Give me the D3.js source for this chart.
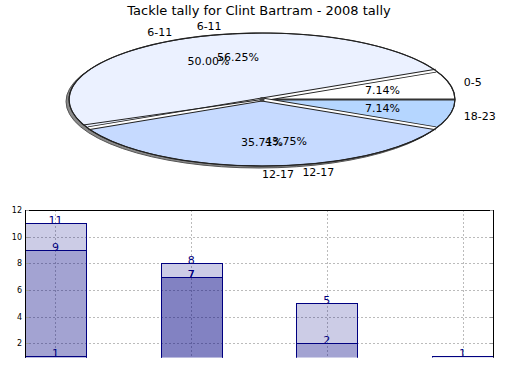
<!DOCTYPE html>
<html>
<head>
<meta charset="utf-8">
<script src="https://cdn.jsdelivr.net/npm/d3@7"></script>
<style>
  html, body { margin: 0; padding: 0; background: #fff; }
  svg { display: block; font-family: "DejaVu Sans", sans-serif; }
</style>
</head>
<body>
<script>
// ---- data ----
const title = "Tackle tally for Clint Bartram - 2008 tally";
const pieCategories = ["0-5", "6-11", "12-17", "18-23"];
const pie1Values = [1, 7, 5, 1];
const pie2Values = [0, 9, 7, 0];
const pieColors = ["#ffffff", "#ebf1ff", "#c6daff", "#b5d6ff"];

const barCategories = ["1", "2", "3", "4"];
const barSeriesA = [11, 8, 5, 1];
const barSeriesB = [9, 7, 2, 0];
const barSeriesC = [1, 7, 0, 0];
const yTicks = [2, 4, 6, 8, 10, 12];

// ---- setup ----
const W = 520, H = 390;
const svg = d3.select("body").append("svg").attr("width", W).attr("height", H);

svg.append("text").attr("x", 259).attr("y", 15).attr("text-anchor", "middle")
  .attr("font-size", 13).attr("fill", "#000").text(title);

// ---- 3D-ish pie ----
const cx = 262, cy = 99.5, rx = 193, ry = 66.5;
const pt = (a, f = 1) => [cx + rx * f * Math.cos(a), cy - ry * f * Math.sin(a)];
const pieGen = d3.pie().sort(null).startAngle(0).endAngle(2 * Math.PI);

// shadow / depth
svg.append("ellipse").attr("cx", cx - 3).attr("cy", cy + 2).attr("rx", rx).attr("ry", ry)
  .attr("fill", "#8a8a8a").attr("stroke", "#555").attr("stroke-width", 1);

const arcs1 = pieGen(pie1Values);
const arcs2 = pieGen(pie2Values);

function slicePath(a0, a1) {
  const p0 = pt(a0), p1 = pt(a1);
  const large = (a1 - a0) > Math.PI ? 1 : 0;
  return `M${cx},${cy}L${p0[0]},${p0[1]}A${rx},${ry} 0 ${large} 0 ${p1[0]},${p1[1]}Z`;
}

const pg = svg.append("g");
pg.selectAll("path.s").data(arcs1).join("path")
  .attr("d", d => slicePath(d.startAngle, d.endAngle))
  .attr("fill", (d, i) => pieColors[i])
  .attr("stroke", "#222").attr("stroke-width", 1);

// slice boundaries (double edges)
arcs1.forEach(d => {
  const a = d.startAngle;
  const p = pt(a);
  if (Math.abs(Math.sin(a)) < 1e-6) {
    pg.append("line").attr("x1", cx).attr("y1", cy).attr("x2", p[0]).attr("y2", p[1])
      .attr("stroke", "#333").attr("stroke-width", 2.2);
  } else {
    pg.append("line").attr("x1", cx).attr("y1", cy).attr("x2", p[0]).attr("y2", p[1])
      .attr("stroke", "#222").attr("stroke-width", 4);
    pg.append("line").attr("x1", cx).attr("y1", cy).attr("x2", p[0]).attr("y2", p[1])
      .attr("stroke", "#fff").attr("stroke-width", 2);
  }
});
arcs2.filter(d => d.value > 0).forEach(d => {
  const a = d.startAngle;
  if (Math.abs(Math.sin(a)) < 1e-6) return;
  const p = pt(a);
  pg.append("line").attr("x1", cx).attr("y1", cy).attr("x2", p[0]).attr("y2", p[1])
    .attr("stroke", "#222").attr("stroke-width", 1);
});
pg.append("ellipse").attr("cx", cx).attr("cy", cy).attr("rx", rx).attr("ry", ry)
  .attr("fill", "none").attr("stroke", "#222").attr("stroke-width", 1.2);
pg.append("circle").attr("cx", cx).attr("cy", cy).attr("r", 2.5).attr("fill", "#444");

function pieLabels(arcs, values) {
  const total = d3.sum(values);
  arcs.filter(d => d.value > 0).forEach(d => {
    const m = (d.startAngle + d.endAngle) / 2;
    const ip = pt(m, 0.64);
    svg.append("text").attr("x", ip[0]).attr("y", ip[1]).attr("text-anchor", "middle")
      .attr("dominant-baseline", "central").attr("font-size", 11).attr("fill", "#000")
      .text((d.value / total * 100).toFixed(2) + "%");
    const c = Math.cos(m), s = Math.sin(m);
    const lx = cx + (rx + 14) * c, ly = cy - (ry + 8) * s;
    svg.append("text").attr("x", lx).attr("y", ly)
      .attr("text-anchor", c < -0.01 ? "end" : "start")
      .attr("dominant-baseline", "central").attr("font-size", 11).attr("fill", "#000")
      .text(pieCategories[d.index]);
  });
}
pieLabels(arcs1, pie1Values);
pieLabels(arcs2, pie2Values);

// ---- bar chart ----
const px0 = 25, px1 = 493, py0 = 210, py1 = 357.5;
const x = d3.scaleBand().domain(barCategories).range([px0, px1]).paddingInner(0.551).paddingOuter(0);
const y = d3.scaleLinear().domain([0, 12]).range([369.8, 210]);

svg.append("defs").append("clipPath").attr("id", "plotclip")
  .append("rect").attr("x", px0).attr("y", py0 - 20).attr("width", px1 - px0 + 1).attr("height", py1 - py0 + 20);

const plot = svg.append("g").attr("clip-path", "url(#plotclip)");

// grid
plot.selectAll("line.hg").data(yTicks.filter(t => t < 12)).join("line")
  .attr("x1", px0).attr("x2", px1).attr("y1", d => Math.round(y(d)) + 0.5).attr("y2", d => Math.round(y(d)) + 0.5)
  .attr("stroke", "#bbb").attr("stroke-dasharray", "2,2").attr("stroke-width", 1);
plot.selectAll("line.vg").data(barCategories).join("line")
  .attr("x1", d => Math.round(x(d) + x.bandwidth() / 2) + 0.5).attr("x2", d => Math.round(x(d) + x.bandwidth() / 2) + 0.5)
  .attr("y1", py0).attr("y2", py1)
  .attr("stroke", "#bbb").attr("stroke-dasharray", "2,2").attr("stroke-width", 1);

const series = [barSeriesA, barSeriesB, barSeriesC];
series.forEach(vals => {
  plot.selectAll(null).data(vals.map((v, i) => ({ v, c: barCategories[i] })).filter(d => d.v > 0)).join("rect")
    .attr("x", d => Math.round(x(d.c)) + 0.5).attr("width", Math.round(x.bandwidth()))
    .attr("y", d => Math.round(y(d.v)) + 0.5).attr("height", d => y(0) - Math.round(y(d.v)))
    .attr("fill", "#000080").attr("fill-opacity", 0.2)
    .attr("stroke", "#000080").attr("stroke-width", 1);
});
series.forEach(vals => {
  plot.selectAll(null).data(vals.map((v, i) => ({ v, c: barCategories[i] })).filter(d => d.v > 0)).join("text")
    .attr("x", d => x(d.c) + x.bandwidth() / 2).attr("y", d => y(d.v) + 1)
    .attr("text-anchor", "middle").attr("font-size", 11).attr("fill", "#000080")
    .text(d => d.v);
});

// frame & axes
svg.append("line").attr("x1", px0).attr("x2", px1 + 0.5).attr("y1", py0 + 0.5).attr("y2", py0 + 0.5).attr("stroke", "#000");
svg.append("line").attr("x1", px0 + 0.5).attr("x2", px0 + 0.5).attr("y1", py0).attr("y2", py1).attr("stroke", "#000");
svg.append("line").attr("x1", px1 + 0.5).attr("x2", px1 + 0.5).attr("y1", py0).attr("y2", py1).attr("stroke", "#000");

const yAxis = svg.append("g");
yTicks.forEach(t => {
  const yy = Math.round(y(t)) + 0.5;
  yAxis.append("line").attr("x1", px0 + 1).attr("x2", px0 + 4).attr("y1", yy).attr("y2", yy).attr("stroke", "#999");
  yAxis.append("line").attr("x1", px1 - 3).attr("x2", px1).attr("y1", yy).attr("y2", yy).attr("stroke", "#999");
  yAxis.append("text").attr("x", px0 - 3).attr("y", yy).attr("text-anchor", "end")
    .attr("dominant-baseline", "central").attr("font-size", 8).attr("fill", "#000").text(t);
});
</script>
</body>
</html>
